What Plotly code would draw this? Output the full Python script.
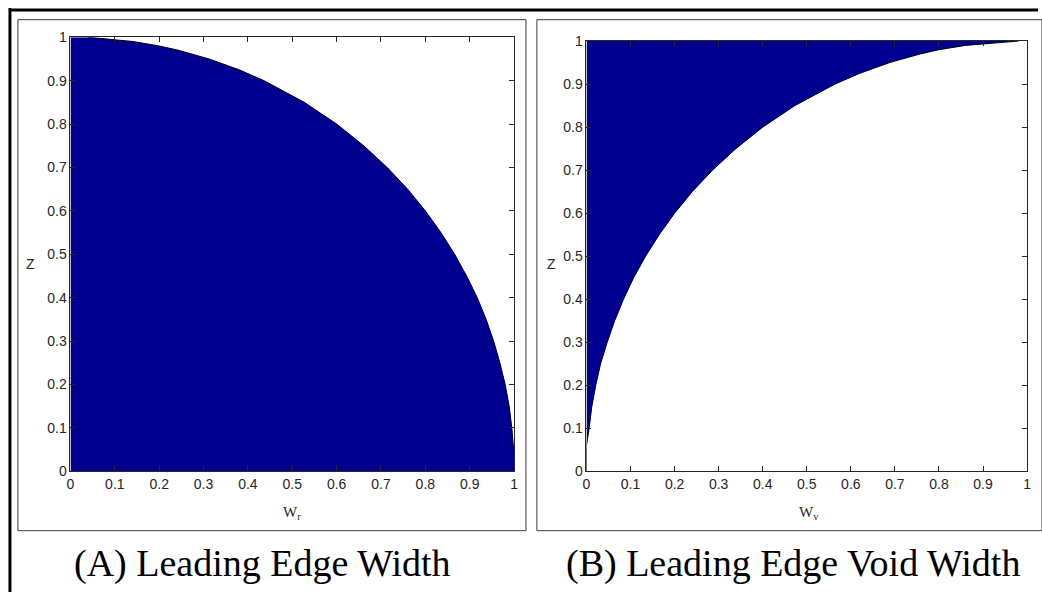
import plotly.graph_objects as go

W, H = 1042, 600

# ---- data ----
z_levels = [0.0, 0.05, 0.1, 0.15, 0.2, 0.25, 0.3, 0.35, 0.4, 0.45, 0.5, 0.55, 0.6,
            0.65, 0.7, 0.75, 0.8, 0.85, 0.9, 0.925, 0.95, 0.97, 0.98, 0.99, 1.0]
w_r = [1.0, 0.999, 0.995, 0.989, 0.98, 0.968, 0.954, 0.937, 0.917, 0.893, 0.866, 0.835, 0.80,
       0.76, 0.714, 0.661, 0.60, 0.527, 0.436, 0.38, 0.312, 0.243, 0.199, 0.141, 0.04]
z_void = [0.0, 0.06, 0.1, 0.15, 0.2, 0.25, 0.3, 0.35, 0.4, 0.45, 0.5, 0.55, 0.6,
          0.65, 0.7, 0.75, 0.8, 0.85, 0.9, 0.925, 0.95, 0.97, 0.98, 0.99, 1.0]
w_v = [0.0, 0.0, 0.006, 0.012, 0.021, 0.032, 0.047, 0.064, 0.084, 0.107, 0.134, 0.165, 0.20,
       0.24, 0.286, 0.339, 0.40, 0.473, 0.564, 0.62, 0.688, 0.757, 0.80, 0.86, 0.98]
tick_vals = [0, 0.1, 0.2, 0.3, 0.4, 0.5, 0.6, 0.7, 0.8, 0.9, 1]
tick_text = ["0", "0.1", "0.2", "0.3", "0.4", "0.5", "0.6", "0.7", "0.8", "0.9", "1"]
titles = ["(A) Leading Edge Width", "(B) Leading Edge Void Width"]

FILL = "#00008F"
TICKFONT = dict(family="Liberation Sans, Arial", size=14, color="#262626")


def px(x):
    return x / W


def py(y):
    return 1 - y / H


fig = go.Figure()
fig.add_trace(go.Scatter(x=w_r, y=z_levels, mode="lines", fill="tozerox",
                         fillcolor=FILL, line=dict(color="black", width=1),
                         xaxis="x", yaxis="y", showlegend=False))
fig.add_trace(go.Scatter(x=w_v, y=z_void, mode="lines", fill="tozerox",
                         fillcolor=FILL, line=dict(color="black", width=1),
                         xaxis="x2", yaxis="y2", showlegend=False))

axis_common = dict(range=[0, 1], tickmode="array", tickvals=tick_vals, ticktext=tick_text,
                   ticks="inside", ticklen=5, tickcolor="#262626", showline=True,
                   linecolor="#262626", linewidth=1, mirror="ticks", showgrid=False,
                   zeroline=False, tickfont=TICKFONT, fixedrange=True)

fig.update_layout(
    width=W, height=H, margin=dict(l=0, r=0, t=0, b=0),
    paper_bgcolor="white", plot_bgcolor="white",
    xaxis=dict(domain=[px(67), px(514)], anchor="y", **axis_common),
    yaxis=dict(domain=[py(476), py(30)], anchor="x", **axis_common),
    xaxis2=dict(domain=[px(587), px(1031)], anchor="y2", **axis_common),
    yaxis2=dict(domain=[py(476), py(34)], anchor="x2", **axis_common),
)

shapes = [
    # outer black frame (left and top)
    dict(type="line", xref="paper", yref="paper", x0=px(6), x1=px(6), y0=0, y1=1,
         line=dict(color="black", width=3)),
    dict(type="line", xref="paper", yref="paper", x0=px(5), x1=1, y0=py(2), y1=py(2),
         line=dict(color="black", width=3)),
    # panel frames
    dict(type="rect", xref="paper", yref="paper", x0=px(14), x1=px(526), y0=py(537), y1=py(12),
         line=dict(color="#3a3a3a", width=1)),
    dict(type="rect", xref="paper", yref="paper", x0=px(537), x1=px(1046), y0=py(537), y1=py(12),
         line=dict(color="#3a3a3a", width=1)),
]
fig.update_layout(shapes=shapes)

serif = "Liberation Serif, Times New Roman, serif"


def ann(x, y, text, font):
    return dict(x=px(x), y=py(y), text=text, showarrow=False, xref="paper", yref="paper",
                xanchor="center", yanchor="middle", font=font)


annotations = [
    ann(290, 519, "W<sub>r</sub>", dict(family=serif, size=15, color="#262626")),
    ann(811, 519, "W<sub>v</sub>", dict(family=serif, size=15, color="#262626")),
    ann(27, 263, "Z", dict(family="Liberation Sans, Arial", size=14, color="#262626")),
    ann(552, 263, "Z", dict(family="Liberation Sans, Arial", size=14, color="#262626")),
    ann(260, 571, titles[0], dict(family=serif, size=38, color="black")),
    ann(795, 571, titles[1], dict(family=serif, size=38, color="black")),
]
fig.update_layout(annotations=annotations)

fig.write_html("out.html", config={"displayModeBar": False},
               post_script="document.body.style.margin='0';document.body.style.overflow='hidden';")
